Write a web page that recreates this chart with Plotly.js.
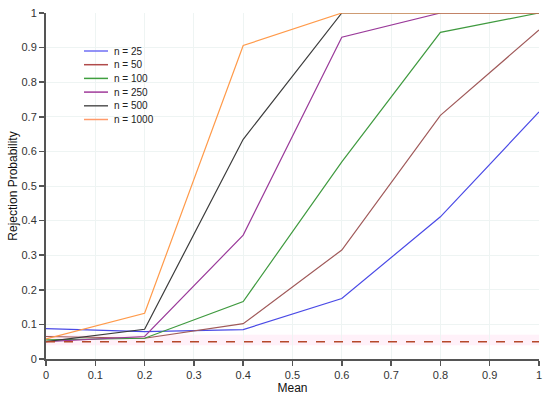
<!DOCTYPE html>
<html>
<head>
<meta charset="utf-8">
<script src="https://cdn.plot.ly/plotly-3.0.1.min.js"></script>
<style>html,body{margin:0;padding:0;background:#fff;}#chart{width:550px;height:398px;}</style>
</head>
<body>
<div id="chart"></div>
<script>
const means = [0, 0.2, 0.4, 0.6, 0.8, 1];
const seriesNames = ["n = 25", "n = 50", "n = 100", "n = 250", "n = 500", "n = 1000"];
const n25 = [0.088, 0.079, 0.085, 0.175, 0.411, 0.714];
const n50 = [0.065, 0.060, 0.102, 0.315, 0.704, 0.951];
const n100 = [0.055, 0.060, 0.166, 0.570, 0.944, 1.0];
const n250 = [0.050, 0.065, 0.358, 0.930, 1.0, 1.0];
const n500 = [0.050, 0.086, 0.635, 1.0, 1.0, 1.0];
const n1000 = [0.058, 0.132, 0.906, 1.0, 1.0, 1.0];
const alphaLevel = [0.05, 0.05];
const alphaX = [0, 1];

const seriesValues = [n25, n50, n100, n250, n500, n1000];
const colors = ["#4a4ae6", "#a05a5a", "#3f9a3f", "#9a3a9a", "#3c3c3c", "#ff9a4a"];
const legendColors = ["#6f6ff5", "#b04a4a", "#3f9f3f", "#a03a9a", "#555555", "#ff9a6a"];

const traces = seriesValues.map((vals, i) => ({
  x: means, y: vals, type: "scatter", mode: "lines",
  name: seriesNames[i], showlegend: false,
  line: {color: colors[i], width: 1.2}
}));
traces.push({
  x: alphaX, y: alphaLevel, type: "scatter", mode: "lines",
  showlegend: false, hoverinfo: "skip",
  line: {color: "#b5482a", width: 1.5, dash: "dash"}
});

const FONT = "Liberation Sans, Arial, sans-serif";
const axisCommon = {
  showline: true, linecolor: "#555", linewidth: 2,
  ticks: "outside", ticklen: 5, tickcolor: "#555", tickwidth: 1.5,
  showgrid: true, gridcolor: "#eef4f3", gridwidth: 1,
  zeroline: false,
  tickfont: {family: FONT, size: 11, color: "#333"}
};

// Manual legend (layout only): pixel geometry of the plot area
const plotL = 46, plotW = 493, plotB = 359, plotH = 346;
const px = v => (v - plotL) / plotW;
const py = v => (plotB - v) / plotH;
const legShapes = [], legAnn = [];
seriesNames.forEach((nm, i) => {
  const yy = py(51 + 13.7 * i);
  legShapes.push({type: "line", xref: "paper", yref: "paper", x0: px(84), x1: px(108), y0: yy, y1: yy,
    line: {color: legendColors[i], width: 1.5}});
  legAnn.push({xref: "paper", yref: "paper", x: px(112), y: yy, xanchor: "left", yanchor: "middle",
    text: nm, showarrow: false, font: {family: FONT, size: 10, color: "#222"}});
});

const layout = {
  width: 550, height: 398,
  margin: {l: 46, r: 11, t: 13, b: 39},
  paper_bgcolor: "#fff", plot_bgcolor: "#fff",
  showlegend: false,
  xaxis: Object.assign({}, axisCommon, {
    range: [0, 1], dtick: 0.1, tick0: 0,
    title: {text: "Mean", standoff: 0, font: {family: FONT, size: 12, color: "#111"}}
  }),
  yaxis: Object.assign({}, axisCommon, {
    range: [0, 1], dtick: 0.1, tick0: 0,
    title: {text: "Rejection Probability", standoff: 1, font: {family: FONT, size: 12, color: "#111"}}
  }),
  shapes: [{
    type: "rect", xref: "x", yref: "y", x0: 0, x1: 1, y0: 0.04, y1: 0.07,
    fillcolor: "rgba(255,200,230,0.25)", line: {width: 0}, layer: "below"
  }].concat(legShapes),
  annotations: legAnn
};

Plotly.newPlot("chart", traces, layout, {displayModeBar: false, staticPlot: true});
</script>
</body>
</html>
